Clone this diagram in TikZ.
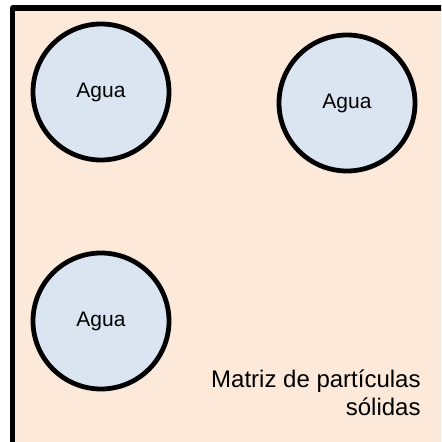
\documentclass[tikz,border=0pt]{standalone}
\usepackage{fontspec}
\setmainfont{Liberation Sans}
\usepackage{tikz}
\definecolor{matriz}{HTML}{FDE9D9}
\definecolor{agua}{HTML}{DBE5F1}

\begin{document}
\begin{tikzpicture}[line cap=round,line join=round,x=0.5pt,y=-0.5pt,
	gota/.style={circle,draw=black,line width=2.4pt,fill=agua,minimum size=68pt,inner sep=0pt,font=\fontsize{10.5}{12.6}\selectfont}]

		%marco
		\useasboundingbox (0,0) rectangle (441,442);
		\clip (0,0) rectangle (441,442);
		\draw[line width=2.6pt,fill=matriz] (12.5,8) rectangle (480,480);

		%gotas de agua
		\node[gota] (agua1) at (101,92) {Agua};
		\node[gota] (agua2) at (347,103) {Agua};
		\node[gota] (agua3) at (101,321) {Agua};

		%texto
		\node[anchor=base east,align=right,inner sep=0pt,font=\fontsize{12}{14}\selectfont] (matriztxt) at (421,415) {Matriz de partículas\\sólidas};

\end{tikzpicture}
\end{document}
